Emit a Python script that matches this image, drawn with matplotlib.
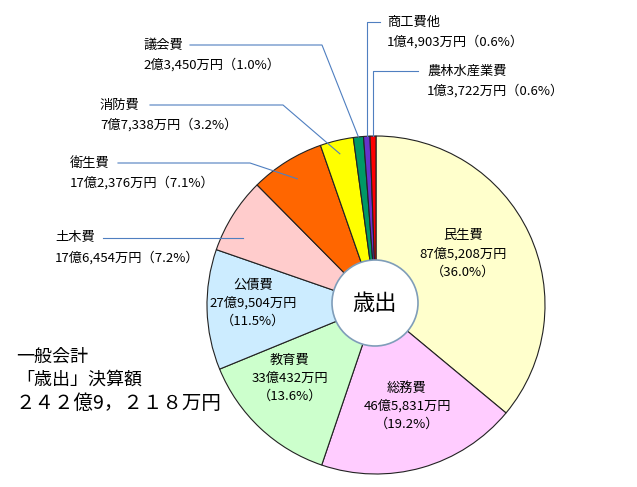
import matplotlib
matplotlib.use("Agg")
import matplotlib.pyplot as plt
from matplotlib.patches import Circle
import numpy as np

plt.rcParams['font.family'] = ['Noto Sans CJK JP', 'DejaVu Sans']

# 一般会計 歳出 (単位: 万円)
names = ['民生費', '総務費', '教育費', '公債費', '土木費', '衛生費',
         '消防費', '議会費', '商工費他', '農林水産業費']
values = [875208, 465831, 330432, 279504, 176454, 172376,
          77338, 23450, 14903, 13722]
percents = [36.0, 19.2, 13.6, 11.5, 7.2, 7.1, 3.2, 1.0, 0.6, 0.6]
colors = ['#FFFFCC', '#FFCCFF', '#CCFFCC', '#CCECFF', '#FFCCCC', '#FF6600',
          '#FFFF00', '#009966', '#6633CC', '#FF0000']
total_label = ['一般会計', '「歳出」決算額', '２４２億9，２１８万円']

W, H = 637, 487
def Y(py):
    return H - py

def money(v):
    oku, man = divmod(v, 10000)
    return f"{oku}億{man:,}万円"

fig = plt.figure(figsize=(W / 100, H / 100), dpi=100)
ax = fig.add_axes([0, 0, 1, 1])

cx, cy, R = 376, Y(305), 169
wedges, _ = ax.pie(values, colors=colors, startangle=90, counterclock=False,
                   center=(cx, cy), radius=R,
                   wedgeprops=dict(edgecolor='#222222', linewidth=0.8))

ax.add_patch(Circle((375, Y(303)), 43, facecolor='white',
                    edgecolor='#7F9DB9', linewidth=1.2, zorder=5))
ax.text(375, Y(303), '歳出', fontsize=16, ha='center', va='center', zorder=6)

def anchor(i, frac):
    w = wedges[i]
    ang = np.deg2rad((w.theta1 + w.theta2) / 2)
    return cx + R * frac * np.cos(ang), cy + R * frac * np.sin(ang)

fs = 9.5
# labels inside the pie: (index, x, y of the name line)
inside = [(0, 463, 236), (1, 407, 388), (2, 290, 360), (3, 253, 285)]
for i, x, y in inside:
    ax.text(x, Y(y), names[i], fontsize=fs, ha='center', va='center')
    ax.text(x, Y(y + 18), money(values[i]), fontsize=fs, ha='center', va='center')
    ax.text(x, Y(y + 36), f"（{percents[i]:.1f}%）", fontsize=fs,
            ha='center', va='center')

# outside labels: (index, text x, name y, line start x, knee x, anchor radius)
line_c = '#4F7FC0'
outside = [
    (8, 387, 22, 380, None, 1.0),
    (9, 427, 71, 418, None, 1.0),
    (7, 143, 45, 190, 322, 1.0),
    (6, 100, 105, 150, 283, 0.92),
    (5, 70, 163, 118, 250, 0.88),
    (4, 55, 238, 103, 243, None),
]
for i, tx, ty, sx, kx, fr in outside:
    ax.text(tx, Y(ty), names[i], fontsize=fs, ha='left', va='center')
    ax.text(tx, Y(ty + 20), f"{money(values[i])}（{percents[i]:.1f}%）",
            fontsize=fs, ha='left', va='center')
    if fr is None:
        # plain horizontal leader ending inside the wedge
        xs, ys = [sx, kx], [Y(ty), Y(ty)]
    elif kx is None:
        ex, ey = anchor(i, fr)
        xs, ys = [sx, ex, ex], [Y(ty), Y(ty), ey]
    else:
        ex, ey = anchor(i, fr)
        xs, ys = [sx, kx, ex], [Y(ty), Y(ty), ey]
    ax.plot(xs, ys, color=line_c, linewidth=0.8, zorder=7)

for k, s in enumerate(total_label):
    ax.text(16, Y(357 + 23 * k), s, fontsize=13 if k < 2 else 14,
            ha='left', va='center')

ax.set_xlim(0, W)
ax.set_ylim(0, H)
ax.set_aspect('auto')
ax.axis('off')
fig.savefig('out.png', dpi=100)
